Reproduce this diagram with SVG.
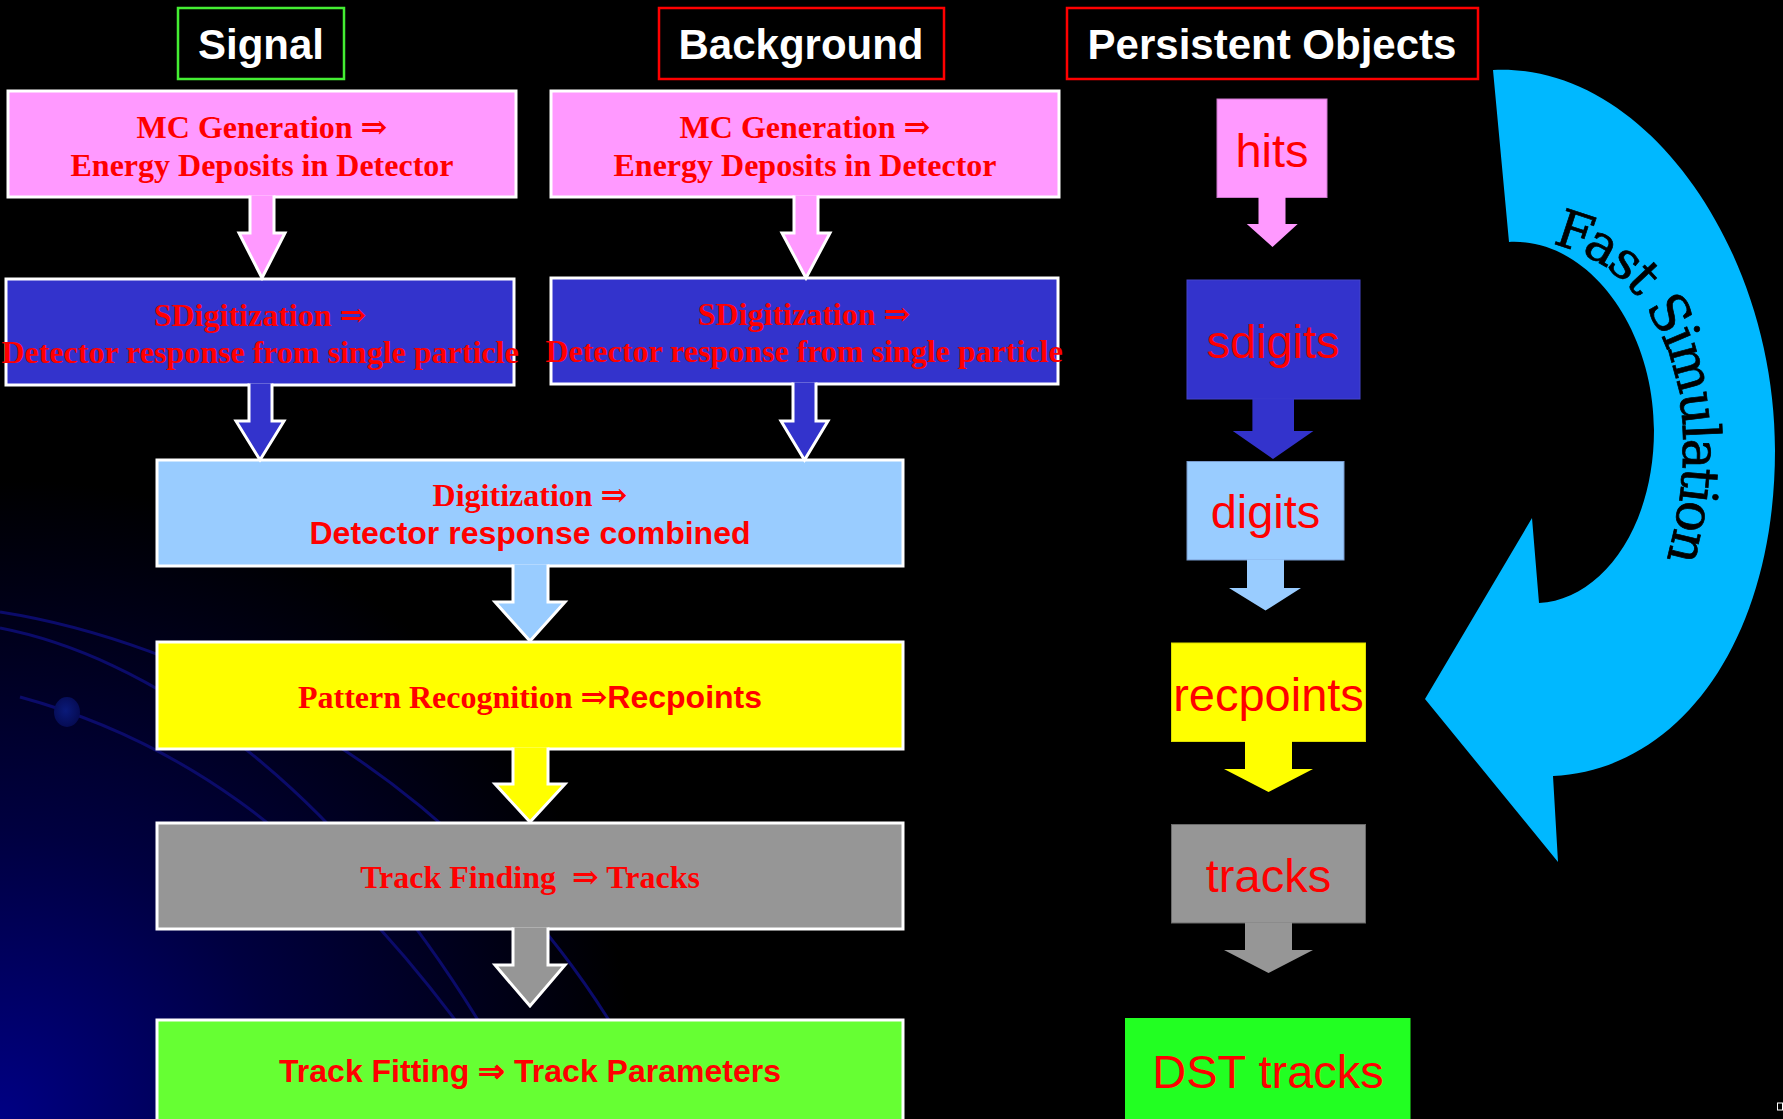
<svg xmlns="http://www.w3.org/2000/svg" width="1783" height="1119" viewBox="0 0 1783 1119">
  <defs>
    <radialGradient id="bgGlow" cx="0" cy="1119" r="640" gradientUnits="userSpaceOnUse">
      <stop offset="0" stop-color="#000084"/>
      <stop offset="0.45" stop-color="#000040"/>
      <stop offset="1" stop-color="#000000"/>
    </radialGradient>
    <radialGradient id="dotGrad" cx="0.45" cy="0.45" r="0.6">
      <stop offset="0" stop-color="#0a1a7a"/>
      <stop offset="1" stop-color="#050a50"/>
    </radialGradient>
    <path id="fsPath" d="M1552,244 C1666,270 1718,410 1658,588"/>
  </defs>
  <style>
    .hdr { font-family: "Liberation Sans", Arial, sans-serif; font-weight: bold; font-size: 42px; fill: #ffffff; text-anchor: middle; }
    .hdrbox { fill: none; stroke-width: 2.5; }
    .box { stroke: #ffffff; stroke-width: 3; }
    .conn { stroke: #ffffff; stroke-width: 3; stroke-linejoin: miter; }
    .sb { font-family: "Liberation Serif", "DejaVu Serif", serif; font-weight: bold; font-size: 32px; fill: #ff0000; text-anchor: middle; }
    .ssb { font-family: "Liberation Sans", Arial, sans-serif; font-weight: bold; }
    .sansb { font-family: "Liberation Sans", Arial, sans-serif; font-weight: bold; font-size: 32px; fill: #ff0000; text-anchor: middle; }
    .po { font-family: "Liberation Sans", Arial, sans-serif; font-size: 47px; fill: #ff0000; text-anchor: middle; }
    .fs { font-family: "DejaVu Serif", "Liberation Serif", serif; font-size: 52px; letter-spacing: -2.6px; fill: #000000; stroke: #000000; stroke-width: 0.7; }
    .bgline { fill: none; stroke: #0b0b6a; stroke-width: 3; }
    .pink { fill: #ff99ff; }
    .blue { fill: #3333cc; }
    .lblue { fill: #99ccff; }
    .yellow { fill: #ffff00; }
    .gray { fill: #969696; }
    .green { fill: #66ff33; }
  </style>

  <rect x="0" y="0" width="1783" height="1119" fill="#000000"/>

  <g id="background">
    <rect x="0" y="400" width="800" height="719" fill="url(#bgGlow)"/>
    <path class="bgline" d="M0,612 C180,640 450,760 615,1030"/>
    <path class="bgline" d="M0,628 C140,655 330,770 490,1040"/>
    <path class="bgline" d="M20,697 C160,735 310,820 470,1040"/>
    <ellipse cx="67" cy="712" rx="13" ry="15" fill="url(#dotGrad)"/>
  </g>

  <g id="header-signal">
    <rect class="hdrbox" x="178" y="8" width="166" height="71" stroke="#44ee33"/>
    <text class="hdr" x="261" y="59">Signal</text>
  </g>
  <g id="header-background">
    <rect class="hdrbox" x="659" y="8" width="285" height="71" stroke="#ff0000"/>
    <text class="hdr" x="801" y="59">Background</text>
  </g>
  <g id="header-persistent">
    <rect class="hdrbox" x="1067" y="8" width="411" height="71" stroke="#ff0000"/>
    <text class="hdr" x="1272" y="59">Persistent Objects</text>
  </g>

  <g id="signal-mcgen">
    <rect class="box pink" x="8" y="91" width="508" height="106"/>
    <text class="sb" x="262" y="138">MC Generation ⇒</text>
    <text class="sb" x="262" y="176">Energy Deposits in Detector</text>
  </g>
  <g id="background-mcgen">
    <rect class="box pink" x="551" y="91" width="508" height="106"/>
    <text class="sb" x="805" y="138">MC Generation ⇒</text>
    <text class="sb" x="805" y="176">Energy Deposits in Detector</text>
  </g>
  <g id="signal-sdig">
    <rect class="box blue" x="6" y="279" width="508" height="106"/>
    <text class="sb" x="260" y="326">SDigitization ⇒</text>
    <text class="sb" x="260" y="363">Detector response from single particle</text>
  </g>
  <g id="background-sdig">
    <rect class="box blue" x="551" y="278" width="507" height="106"/>
    <text class="sb" x="804" y="325">SDigitization ⇒</text>
    <text class="sb" x="804" y="362">Detector response from single particle</text>
  </g>
  <g id="digitization">
    <rect class="box lblue" x="157" y="460" width="746" height="106"/>
    <text class="sb" x="530" y="506">Digitization ⇒</text>
    <text class="sansb" x="530" y="544">Detector response combined</text>
  </g>
  <g id="pattern-recognition">
    <rect class="box yellow" x="157" y="642" width="746" height="107"/>
    <text class="sb" x="530" y="708">Pattern Recognition ⇒<tspan class="ssb">Recpoints</tspan></text>
  </g>
  <g id="track-finding">
    <rect class="box gray" x="157" y="823" width="746" height="106"/>
    <text class="sb" x="530" y="888" xml:space="preserve">Track Finding  ⇒ Tracks</text>
  </g>
  <g id="track-fitting">
    <rect class="box green" x="157" y="1020" width="746" height="120"/>
    <text class="sansb" x="530" y="1082">Track Fitting ⇒<tspan> Track Parameters</tspan></text>
  </g>

  <g id="po-hits">
    <rect x="1217" y="99" width="110" height="98.5" fill="#ff99ff" stroke="#cc77cc" stroke-width="1"/>
    <text class="po" x="1272" y="167">hits</text>
  </g>
  <g id="po-sdigits">
    <rect x="1187" y="280" width="173" height="119" fill="#3333cc" stroke="#4444cc" stroke-width="1"/>
    <text class="po" x="1273" y="358">sdigits</text>
  </g>
  <g id="po-digits">
    <rect x="1187" y="461.5" width="157" height="98.5" fill="#99ccff" stroke="#7799cc" stroke-width="1"/>
    <text class="po" x="1265.5" y="528">digits</text>
  </g>
  <g id="po-recpoints">
    <rect x="1171.5" y="643" width="194" height="98.5" fill="#ffff00" stroke="#dddd00" stroke-width="1"/>
    <text class="po" x="1268.5" y="711">recpoints</text>
  </g>
  <g id="po-tracks">
    <rect x="1171.5" y="824.5" width="194" height="98.5" fill="#969696" stroke="#6a6a6a" stroke-width="1"/>
    <text class="po" x="1268.5" y="892">tracks</text>
  </g>
  <g id="po-dst">
    <rect x="1125" y="1018" width="285.5" height="120" fill="#22ff22"/>
    <text class="po" x="1268" y="1088">DST tracks</text>
  </g>

  <g id="connectors">
    <path class="conn pink" d="M250,195.5 V233 H239 L262,278 L285,233 H274 V195.5"/>
    <path class="conn pink" d="M794,195.5 V233 H782 L806,278 L830,233 H818 V195.5"/>
    <path class="conn blue" d="M249,383.5 V421 H236 L260,460 L284,421 H272 V383.5"/>
    <path class="conn blue" d="M793,382.5 V421 H781 L804.5,460 L828,421 H816 V382.5"/>
    <path class="conn lblue" d="M513,564.5 V602 H495 L530,641 L565,602 H548 V564.5"/>
    <path class="conn yellow" d="M513,747.5 V784 H495 L530,822 L565,784 H548 V747.5"/>
    <path class="conn gray" d="M513,927.5 V965 H495 L530,1006 L565,965 H548 V927.5"/>

    <path fill="#ff99ff" d="M1258.5,197 V224 H1246.8 L1272.5,247 L1297.7,224 H1285.5 V197 Z"/>
    <path fill="#3333cc" d="M1252.4,398.5 V431 H1232.8 L1273,459 L1313.4,431 H1294 V398.5 Z"/>
    <path fill="#99ccff" d="M1247,559.5 V588 H1229 L1265.5,610.6 L1301,588 H1284 V559.5 Z"/>
    <path fill="#ffff00" d="M1245,741 V769 H1224 L1268.5,792 L1313,769 H1292 V741 Z"/>
    <path fill="#969696" d="M1245,922.5 V950 H1224 L1268.5,973 L1313,950 H1292 V922.5 Z"/>
  </g>

  <g id="fast-simulation">
    <path fill="#00b8ff" d="M1493,70 C1645,62 1775,250 1775,450 C1775,640 1680,770 1553,776 L1558,862 L1425,699 L1532,518 L1539,603 C1600,600 1654,530 1654,430 C1654,330 1590,238 1509,242 Z"/>
    <text class="fs"><textPath href="#fsPath">Fast Simulation</textPath></text>
  </g>

  <rect x="1777.5" y="1103" width="5" height="7" fill="none" stroke="#ffffff" stroke-width="1"/>
</svg>
